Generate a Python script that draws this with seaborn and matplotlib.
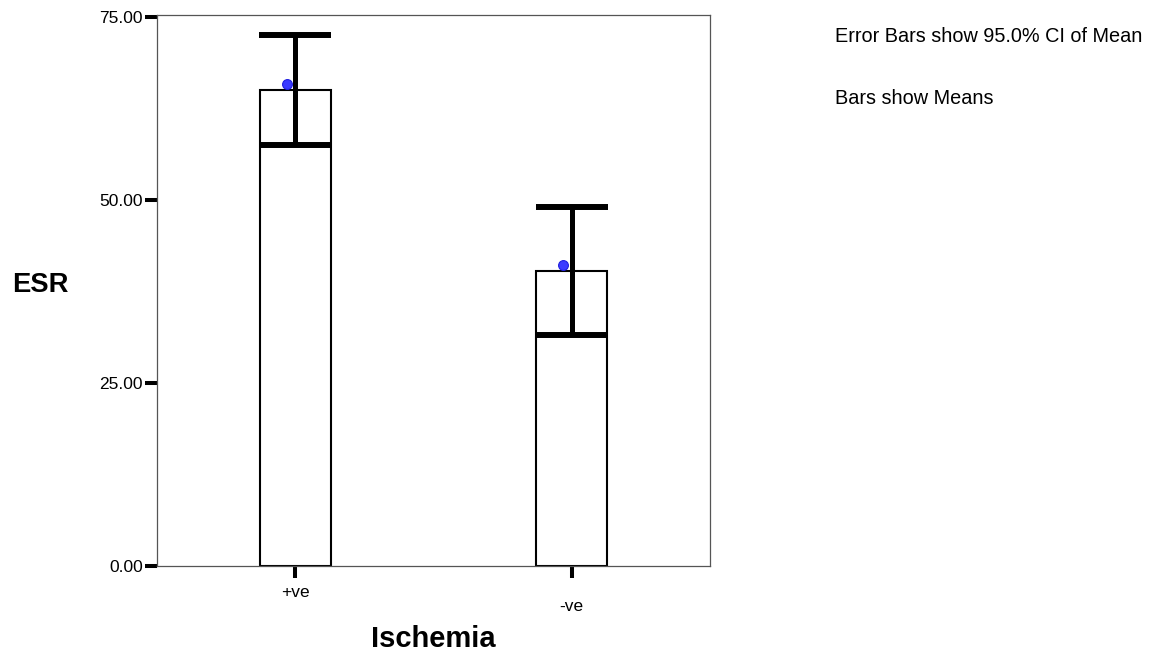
import matplotlib
matplotlib.use("Agg")
import matplotlib.pyplot as plt
import seaborn as sns
import numpy as np

# Data
categories = ["+ve", "-ve"]
means = [65.0, 40.3]
ci_low = [57.5, 31.5]
ci_high = [72.5, 49.1]
marker_vals = [65.8, 41.1]
y_ticks = [0, 25, 50, 75]

sns.set_theme(style="white")
plt.rcParams["font.family"] = ["Liberation Sans", "DejaVu Sans"]
plt.rcParams["text.color"] = "black"
plt.rcParams["axes.labelcolor"] = "black"
plt.rcParams["xtick.color"] = "black"
plt.rcParams["ytick.color"] = "black"

fig = plt.figure(figsize=(11.49, 6.52), dpi=100)
ax = fig.add_axes([157/1149, 1-566/652, 553/1149, 551/652])

sns.barplot(x=categories, y=means, color="white", edgecolor="black",
            linewidth=1.5, width=0.257, errorbar=None, ax=ax, zorder=2)
for p in ax.patches:
    p.set_facecolor("white")

xpos = np.arange(len(categories))
m = np.array(means)
yerr = [m - np.array(ci_low), np.array(ci_high) - m]
ax.errorbar(xpos, means, yerr=yerr, fmt="none", ecolor="black",
            elinewidth=3.6, capsize=25.6, capthick=4.3, zorder=3)
ax.scatter(xpos - 0.03, marker_vals, s=50, marker="o", facecolor="#3b3bff",
           edgecolor="#2020e0", linewidth=0.8, zorder=4)

ax.set_xlim(-0.5, 1.5)
ax.set_ylim(0, 75.27)
ax.set_yticks(y_ticks)
ax.set_yticklabels([f"{v:.2f}" for v in y_ticks], fontsize=12.5)
ax.set_xticks(xpos)
ax.set_xticklabels([categories[0], "\n" + categories[1]], fontsize=12.5, linespacing=0.95)
ax.tick_params(axis="both", direction="out", length=8.6, width=2.9, color="black",
               labelcolor="black", bottom=True, left=True)
ax.tick_params(axis="y", pad=1.5)
ax.tick_params(axis="x", pad=5)

for s in ax.spines.values():
    s.set_visible(True)
    s.set_linewidth(0.9)
    s.set_color("#555555")

ax.set_ylabel("ESR", rotation=0, fontsize=19.7, fontweight="bold", ha="center", va="center")
ax.yaxis.set_label_coords((40-157)/553, (566-285)/551)
ax.set_xlabel("Ischemia", fontsize=21, fontweight="bold", va="center")
ax.xaxis.set_label_coords(0.5, (566-639)/551)

fig.text(835/1149, 1-37/652, "Error Bars show 95.0% CI of Mean", fontsize=14.3,
         ha="left", va="center")
fig.text(835/1149, 1-99/652, "Bars show Means", fontsize=14.3, ha="left", va="center")

fig.savefig("out.png", dpi=100, facecolor="white")
